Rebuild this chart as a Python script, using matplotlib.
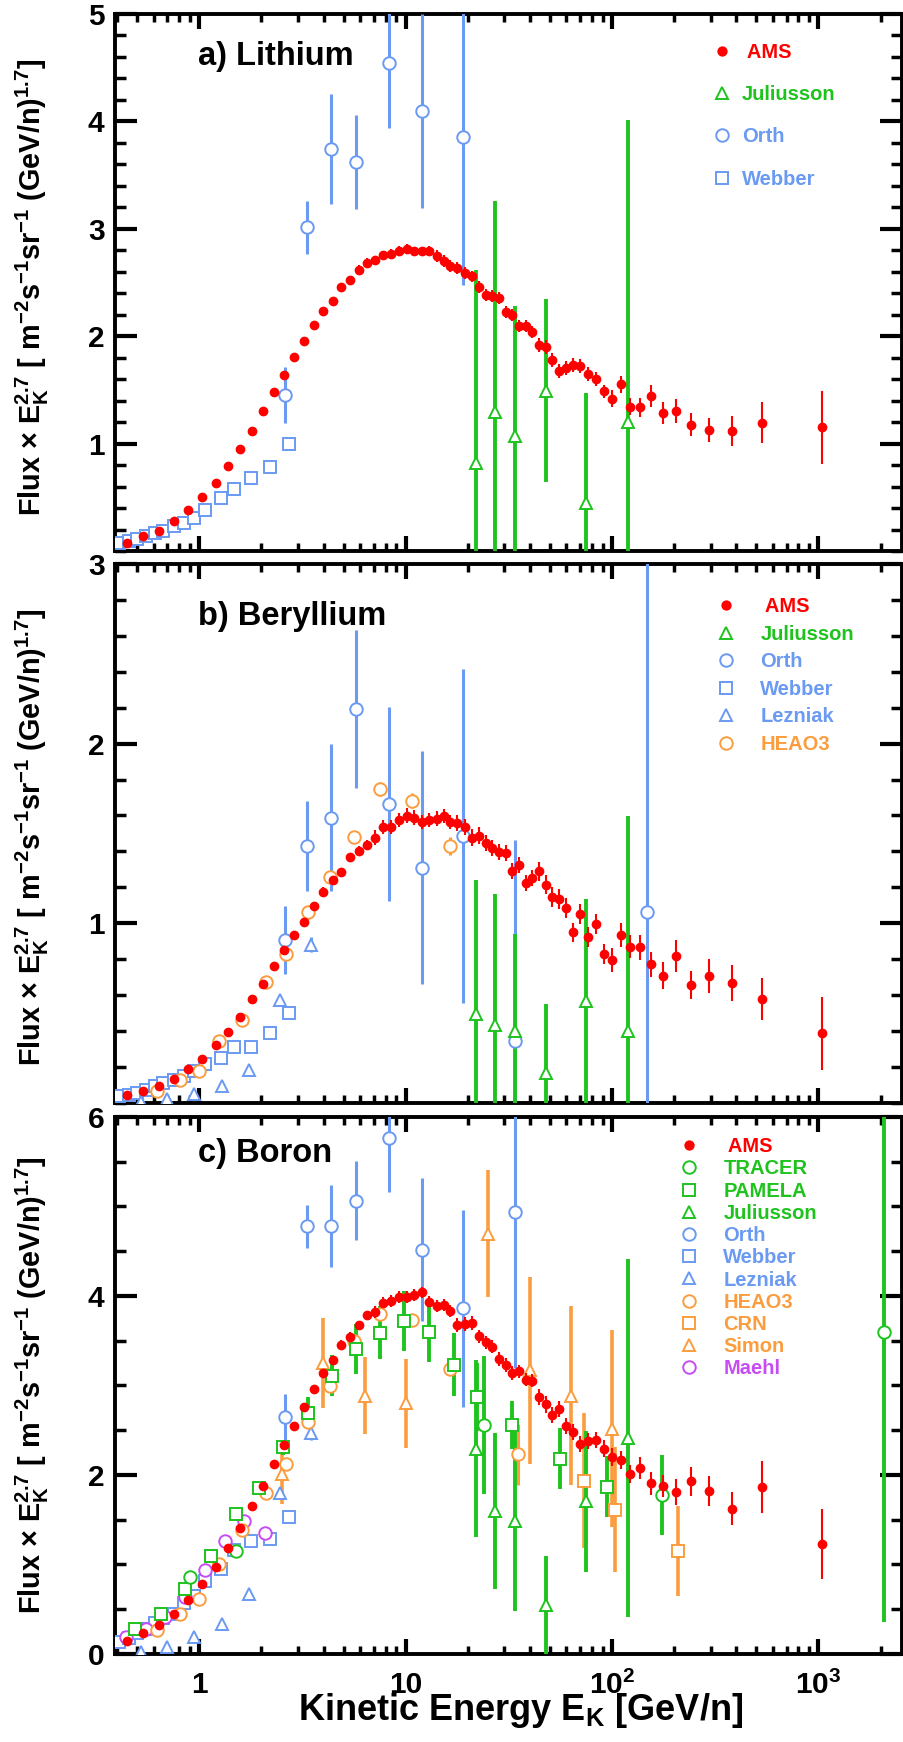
import matplotlib
matplotlib.use('Agg')
import matplotlib.pyplot as plt
from matplotlib.ticker import MultipleLocator, NullFormatter
from matplotlib.lines import Line2D

plt.rcParams['font.family'] = 'Liberation Sans'
plt.rcParams['font.weight'] = 'bold'
plt.rcParams['mathtext.fontset'] = 'custom'
plt.rcParams['mathtext.rm'] = 'Liberation Sans:bold'
plt.rcParams['mathtext.it'] = 'Liberation Sans:bold'
plt.rcParams['mathtext.bf'] = 'Liberation Sans:bold'
plt.rcParams['mathtext.default'] = 'rm'

# AMS energy bins (GeV/n), shared by the three panels
ams_e = [0.445, 0.536, 0.640, 0.753, 0.884, 1.03, 1.20, 1.37, 1.57, 1.79, 2.04, 2.29, 2.58, 2.89,
         3.23, 3.59, 3.98, 4.42, 4.87, 5.38, 5.93, 6.48, 7.11, 7.79, 8.49, 9.28, 10.1, 11.0, 12.0,
         13.0, 14.1, 15.3, 16.4, 17.8, 19.4, 20.9, 22.6, 24.4, 26.2, 28.3, 30.5, 32.8, 35.3, 38.1,
         41.1, 44.2, 47.7, 51.3, 55.3, 59.6, 64.4, 69.8, 76.1, 83.2, 91.2, 100, 111, 122, 137, 155,
         177, 205, 241, 296, 382, 535, 1040]

li_ams = [0.079, 0.135, 0.189, 0.278, 0.385, 0.501, 0.634, 0.787, 0.950, 1.120, 1.299, 1.476, 1.642,
          1.808, 1.958, 2.101, 2.234, 2.330, 2.457, 2.523, 2.613, 2.679, 2.706, 2.752, 2.769, 2.795,
          2.812, 2.789, 2.789, 2.795, 2.746, 2.702, 2.650, 2.633, 2.589, 2.556, 2.456, 2.387, 2.373,
          2.357, 2.224, 2.200, 2.097, 2.097, 2.041, 1.921, 1.901, 1.775, 1.675, 1.702, 1.735, 1.725,
          1.648, 1.602, 1.485, 1.419, 1.552, 1.342, 1.336, 1.442, 1.286, 1.303, 1.176, 1.126, 1.120,
          1.196, 1.150]
li_ams_err = [0.02, 0.02, 0.02, 0.02, 0.02, 0.02, 0.02, 0.02, 0.02, 0.02, 0.02, 0.02, 0.02, 0.02,
              0.03, 0.03, 0.03, 0.03, 0.03, 0.03,
              0.045, 0.045, 0.045, 0.045, 0.045, 0.045, 0.045, 0.045, 0.045, 0.045,
              0.055, 0.055, 0.055, 0.055, 0.055, 0.055, 0.055, 0.055, 0.055, 0.055, 0.055, 0.055,
              0.055, 0.055, 0.055,
              0.065, 0.065, 0.065, 0.065, 0.065, 0.065, 0.065, 0.065, 0.065, 0.065,
              0.08, 0.08, 0.08, 0.09, 0.10, 0.10, 0.11, 0.11, 0.11, 0.14, 0.19, 0.34]

be_ams = [0.042, 0.067, 0.095, 0.134, 0.189, 0.246, 0.319, 0.393, 0.476, 0.575, 0.661, 0.760, 0.850,
          0.936, 1.005, 1.095, 1.175, 1.240, 1.284, 1.368, 1.404, 1.437, 1.477, 1.536, 1.536, 1.574,
          1.599, 1.588, 1.563, 1.574, 1.582, 1.595, 1.563, 1.557, 1.536, 1.477, 1.488, 1.448, 1.420,
          1.395, 1.389, 1.292, 1.322, 1.225, 1.253, 1.288, 1.215, 1.144, 1.133, 1.085, 0.948, 1.053,
          0.921, 0.995, 0.829, 0.795, 0.934, 0.869, 0.865, 0.770, 0.707, 0.818, 0.655, 0.707, 0.665,
          0.577, 0.386]
be_ams_err = [0.01, 0.01, 0.01, 0.01, 0.01, 0.01, 0.01, 0.01, 0.01, 0.01,
              0.015, 0.015, 0.015, 0.015, 0.015, 0.015,
              0.025, 0.025, 0.025, 0.025, 0.025, 0.025,
              0.04, 0.04, 0.04, 0.04, 0.04, 0.04, 0.04, 0.04, 0.04, 0.04, 0.04,
              0.045, 0.045, 0.045, 0.045, 0.045, 0.045, 0.045, 0.045, 0.045, 0.045, 0.045, 0.045,
              0.055, 0.055, 0.055, 0.055, 0.055, 0.055, 0.055, 0.055, 0.055, 0.055,
              0.065, 0.065, 0.065, 0.07, 0.07, 0.075, 0.09, 0.08, 0.095, 0.10, 0.115, 0.205]

b_ams = [0.147, 0.232, 0.328, 0.451, 0.602, 0.779, 0.977, 1.179, 1.411, 1.651, 1.882, 2.118, 2.337,
         2.547, 2.758, 2.956, 3.137, 3.284, 3.453, 3.545, 3.672, 3.781, 3.819, 3.924, 3.945, 3.987,
         3.987, 4.013, 4.038, 3.937, 3.886, 3.895, 3.832, 3.676, 3.684, 3.697, 3.549, 3.482, 3.432,
         3.297, 3.229, 3.137, 3.158, 3.065, 3.053, 2.872, 2.787, 2.665, 2.733, 2.547, 2.476, 2.345,
         2.379, 2.392, 2.295, 2.202, 2.168, 2.008, 2.076, 1.907, 1.874, 1.806, 1.928, 1.819, 1.625,
         1.865, 1.229]
b_ams_err = [0.02, 0.02, 0.02, 0.02, 0.02, 0.02, 0.02, 0.02, 0.02, 0.02,
             0.035, 0.035, 0.035, 0.035, 0.035, 0.035,
             0.05, 0.05, 0.05, 0.05, 0.05, 0.05,
             0.065, 0.065, 0.065, 0.065, 0.065, 0.065, 0.065, 0.065, 0.065, 0.065, 0.065,
             0.075, 0.075, 0.075, 0.075, 0.075, 0.075, 0.075, 0.075, 0.075, 0.075, 0.075, 0.075,
             0.09, 0.09, 0.09, 0.09, 0.09, 0.09, 0.09, 0.09, 0.09, 0.09,
             0.10, 0.10, 0.10, 0.12, 0.13, 0.12, 0.145, 0.16, 0.17, 0.18, 0.29, 0.39]

orth_e = [2.61, 3.32, 4.32, 5.73, 8.33, 12.0, 18.9, 33.9, 148]
li_orth = [1.449, 3.012, 3.743, 3.620, 4.541, 4.096, 3.856]
li_orth_err = [0.26, 0.245, 0.51, 0.44, 0.6, 0.9, 1.38]
be_orth = [0.906, 1.431, 1.588, 2.194, 1.666, 1.309, 1.488, 0.344, 1.064]
be_orth_err = [0.19, 0.25, 0.41, 0.44, 0.54, 0.65, 0.93, 1.12, 2.0]
b_orth = [2.644, 4.779, 4.779, 5.061, 5.76, 4.514, 3.861, 4.939]
b_orth_err = [0.26, 0.24, 0.46, 0.44, 0.6, 0.8, 1.1, 1.74]

jul_e = [22.0, 27.1, 34.0, 48.0, 75.0, 120]
li_jul = [0.820, 1.293, 1.070, 1.492, 0.445, 1.200]
li_jul_err = [1.8, 1.97, 1.21, 0.85, 1.03, 2.81]
be_jul = [0.493, 0.430, 0.397, 0.168, 0.564, 0.397]
be_jul_err = [0.75, 0.73, 0.54, 0.38, 0.57, 1.2]
b_jul = [2.295, 1.600, 1.482, 0.547, 1.705, 2.413]
b_jul_err = [0.99, 0.87, 1.0, 0.55, 0.79, 2.0]

webber_e = [0.41, 0.455, 0.50, 0.55, 0.61, 0.67, 0.75, 0.84, 0.94, 1.07, 1.27, 1.47, 1.77, 2.21, 2.71]
li_webber = [0.07, 0.091, 0.114, 0.138, 0.163, 0.184, 0.231, 0.262, 0.309, 0.386, 0.495, 0.579,
             0.675, 0.784, 0.992]
be_webber = [0.035, 0.042, 0.056, 0.068, 0.095, 0.11, 0.125, 0.148, 0.177, 0.215, 0.248, 0.308,
             0.31, 0.39, 0.50]
b_webber = [0.135, 0.177, 0.232, 0.282, 0.349, 0.40, 0.451, 0.568, 0.653, 0.821, 0.947, 1.158,
            1.263, 1.284, 1.528]
b_webber_err = [0, 0, 0, 0, 0, 0, 0, 0, 0, 0, 0, 0, 0, 0, 0.04]

lez_e = [0.52, 0.694, 0.937, 1.287, 1.734, 2.46, 3.485]
be_lez = [0.005, 0.02, 0.05, 0.095, 0.183, 0.571, 0.881]
be_lez_err = [0, 0, 0, 0, 0, 0, 0.04]
b_lez = [0.026, 0.08, 0.19, 0.34, 0.673, 1.80, 2.463]
b_lez_err = [0, 0, 0, 0, 0, 0, 0.07]

heao_e = [0.621, 0.802, 1.0, 1.25, 1.60, 2.10, 2.64, 3.35, 4.31, 5.63, 7.51, 10.7, 16.3, 35.0]
be_heao = [0.063, 0.126, 0.178, 0.344, 0.462, 0.672, 0.827, 1.060, 1.257, 1.479, 1.746, 1.683, 1.431]
be_heao_err = [0, 0, 0, 0, 0, 0, 0, 0, 0, 0, 0.04, 0.04, 0.05]
b_heao = [0.265, 0.442, 0.619, 1.011, 1.389, 1.798, 2.126, 2.589, 2.989, 3.495, 3.798, 3.726,
          3.179, 2.232]
b_heao_err = [0, 0, 0, 0, 0, 0, 0, 0, 0, 0, 0.05, 0.05, 0.06, 0.34]

tracer_e = [0.90, 1.50, 24.0, 174, 2070]
b_tracer = [0.86, 1.148, 2.56, 1.777, 3.592]
b_tracer_err = [0, 0, 0.77, 0.45, 3.23]

pamela_e = [0.486, 0.649, 0.848, 1.133, 1.501, 1.94, 2.533, 3.345, 4.389, 5.753, 7.511, 9.81,
            12.96, 17.18, 22.04, 32.75, 55.7, 94.7]
b_pamela = [0.275, 0.448, 0.724, 1.10, 1.56, 1.85, 2.307, 2.69, 3.11, 3.41, 3.59, 3.72, 3.60,
            3.23, 2.87, 2.56, 2.18, 1.87]
b_pamela_err = [0.02, 0.02, 0.03, 0.03, 0.04, 0.05, 0.08, 0.18, 0.23, 0.28, 0.30, 0.34, 0.34,
                0.35, 0.38, 0.27, 0.34, 0.34]

crn_e = [73.1, 103.5, 208]
b_crn = [1.937, 1.613, 1.149]
b_crn_err = [0.75, 0.70, 0.50]

simon_e = [2.52, 3.97, 6.36, 10.0, 25.1, 39.9, 63.0, 100]
b_simon = [2.008, 3.25, 2.884, 2.8, 4.695, 3.167, 2.884, 2.518]
b_simon_err = [0.33, 0.5, 0.43, 0.5, 0.71, 1.04, 1.0, 1.1]

maehl_e = [0.441, 0.55, 0.679, 0.848, 1.063, 1.328, 1.64, 2.09]
b_maehl = [0.194, 0.276, 0.418, 0.635, 0.933, 1.265, 1.482, 1.352]

red = '#ff0000'
green = '#1ec31e'
blue = '#6a9af2'
orange = '#fb9d3e'
purple = '#c84cf4'


def add_set(ax, e, v, err, color, marker, elw=2.2, ms=9):
    n = len(v)
    ax.errorbar(e[:n], v, yerr=err, fmt=marker, color=color, mfc='white', mec=color,
                ms=ms, mew=1.4, elinewidth=elw, capsize=0, zorder=3)


def add_ams(ax, v, err):
    ax.errorbar(ams_e, v, yerr=err, fmt='o', color=red, mfc=red, mec=red, ms=6,
                elinewidth=1.5, capsize=0, zorder=6)


def add_legend(ax, entries, anchor, spacing, textpad):
    handles = []
    labels = []
    colors = []
    for lab, col, mk, filled in entries:
        handles.append(Line2D([], [], ls='none', marker=mk, color=col, mec=col,
                              mfc=col if filled else 'white', ms=6 if filled else 9, mew=1.4))
        labels.append(lab)
        colors.append(col)
    ax.legend(handles, labels, loc='upper left', bbox_to_anchor=anchor, frameon=False,
              borderpad=0, borderaxespad=0, handlelength=1.0, handletextpad=textpad,
              labelspacing=spacing, prop={'size': 14.5, 'weight': 'bold'}, labelcolor=colors)


def style_axis(ax, ymax, yticks, yminor, show_x):
    ax.set_xscale('log')
    ax.set_xlim(0.39, 2540)
    ax.set_ylim(0, ymax)
    ax.set_yticks(yticks)
    ax.yaxis.set_minor_locator(MultipleLocator(yminor))
    ax.xaxis.set_minor_formatter(NullFormatter())
    ax.set_xticks([1, 10, 100, 1000])
    ax.set_xticklabels(['1', '10', r'$10^{2}$', r'$10^{3}$'])
    ax.tick_params(axis='both', which='both', direction='in', top=True, right=True,
                   labelsize=21.5)
    ax.tick_params(axis='y', which='major', length=16, width=3, pad=7.5)
    ax.tick_params(axis='y', which='minor', length=8, width=2.5)
    ax.tick_params(axis='x', which='major', length=11, width=3, pad=12)
    ax.tick_params(axis='x', which='minor', length=6, width=2.5)
    ax.tick_params(axis='x', labelbottom=show_x)
    for s in ax.spines.values():
        s.set_linewidth(2.8)


fig = plt.figure(figsize=(9.04, 17.42), dpi=100)
ax_a = fig.add_axes([0.1272, 0.6837, 0.8706, 0.3083])
ax_b = fig.add_axes([0.1272, 0.3670, 0.8706, 0.3092])
ax_c = fig.add_axes([0.1272, 0.0505, 0.8706, 0.3084])

# a) Lithium
add_set(ax_a, webber_e, li_webber, None, blue, 's')
add_set(ax_a, orth_e, li_orth, li_orth_err, blue, 'o')
add_set(ax_a, jul_e, li_jul, li_jul_err, green, '^', elw=2.8)
add_ams(ax_a, li_ams, li_ams_err)
style_axis(ax_a, 5, [1, 2, 3, 4, 5], 0.2, False)
ax_a.text(0.1055, 0.92, 'a) Lithium', transform=ax_a.transAxes, fontsize=23.5,
          fontweight='bold', ha='left', va='center')
add_legend(ax_a, [(' AMS', red, 'o', True), ('Juliusson', green, '^', False),
                  ('Orth', blue, 'o', False), ('Webber', blue, 's', False)],
           (0.7586, 0.9456), 1.15, 0.5)

# b) Beryllium
add_set(ax_b, webber_e, be_webber, None, blue, 's')
add_set(ax_b, lez_e, be_lez, be_lez_err, blue, '^')
add_set(ax_b, heao_e, be_heao, be_heao_err, orange, 'o')
add_set(ax_b, orth_e, be_orth, be_orth_err, blue, 'o')
add_set(ax_b, jul_e, be_jul, be_jul_err, green, '^', elw=2.8)
add_ams(ax_b, be_ams, be_ams_err)
style_axis(ax_b, 3, [1, 2, 3], 0.2, False)
ax_b.text(0.1055, 0.9034, 'b) Beryllium', transform=ax_b.transAxes, fontsize=23.5,
          fontweight='bold', ha='left', va='center')
add_legend(ax_b, [(' AMS', red, 'o', True), ('Juliusson', green, '^', False),
                  ('Orth', blue, 'o', False), ('Webber', blue, 's', False),
                  ('Lezniak', blue, '^', False), ('HEAO3', orange, 'o', False)],
           (0.7637, 0.938), 0.42, 1.2)

# c) Boron
add_set(ax_c, webber_e, b_webber, b_webber_err, blue, 's')
add_set(ax_c, lez_e, b_lez, b_lez_err, blue, '^')
add_set(ax_c, maehl_e, b_maehl, None, purple, 'o')
add_set(ax_c, heao_e, b_heao, b_heao_err, orange, 'o')
add_set(ax_c, crn_e, b_crn, b_crn_err, orange, 's', elw=2.6)
add_set(ax_c, simon_e, b_simon, b_simon_err, orange, '^', elw=2.6)
add_set(ax_c, orth_e, b_orth, b_orth_err, blue, 'o')
add_set(ax_c, pamela_e, b_pamela, b_pamela_err, green, 's', elw=2.8)
add_set(ax_c, tracer_e, b_tracer, b_tracer_err, green, 'o', elw=2.8)
add_set(ax_c, jul_e, b_jul, b_jul_err, green, '^', elw=2.8)
add_ams(ax_c, b_ams, b_ams_err)
style_axis(ax_c, 6, [0, 2, 4, 6], 0.5, True)
ax_c.text(0.1055, 0.9325, 'c) Boron', transform=ax_c.transAxes, fontsize=23.5,
          fontweight='bold', ha='left', va='center')
add_legend(ax_c, [(' AMS', red, 'o', True), ('TRACER', green, 'o', False),
                  ('PAMELA', green, 's', False), ('Juliusson', green, '^', False),
                  ('Orth', blue, 'o', False), ('Webber', blue, 's', False),
                  ('Lezniak', blue, '^', False), ('HEAO3', orange, 'o', False),
                  ('CRN', orange, 's', False), ('Simon', orange, '^', False),
                  ('Maehl', purple, 'o', False)],
           (0.7166, 0.962), 0.16, 1.2)

ylab = r'Flux × $E_{K}^{2.7}$ [ m$^{-2}$s$^{-1}$sr$^{-1}$ (GeV/n)$^{1.7}$]'
for yc in [0.8350, 0.5192, 0.2049]:
    fig.text(0.0354, yc, ylab, rotation=90, ha='center', va='center', fontsize=20.8,
             fontweight='bold')

fig.text(0.576, 0.0126, r'Kinetic Energy $E_{K}$ [GeV/n]', ha='center', va='baseline',
         fontsize=26, fontweight='bold')

fig.savefig('out.png', dpi=100)
